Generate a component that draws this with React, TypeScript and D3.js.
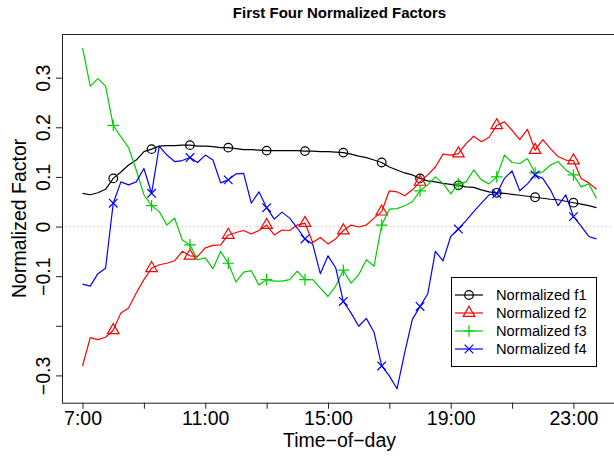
import React, { useEffect, useRef } from "react";
import * as d3 from "d3";

const width = 614;
const height = 457;

// samples every 15 minutes, 7:00 .. 23:45
const hours = d3.range(7, 24, 0.25);

const f1 = [
  0.067, 0.064, 0.068, 0.075, 0.097, 0.11, 0.124, 0.134, 0.151, 0.156,
  0.162, 0.163, 0.163, 0.164, 0.164, 0.162, 0.162, 0.161, 0.159, 0.159,
  0.157, 0.155, 0.155, 0.154, 0.153, 0.153, 0.153, 0.153, 0.153, 0.152,
  0.152, 0.151, 0.151, 0.15, 0.149, 0.146, 0.142, 0.139, 0.134, 0.129,
  0.12, 0.114, 0.108, 0.104, 0.097, 0.092, 0.09, 0.087, 0.085, 0.083,
  0.08, 0.079, 0.074, 0.07, 0.068, 0.067, 0.065, 0.063, 0.061, 0.059,
  0.057, 0.055, 0.054, 0.051, 0.048, 0.045, 0.042, 0.038
];

const f2 = [
  -0.281, -0.224, -0.228, -0.223, -0.209, -0.174, -0.164, -0.134, -0.107, -0.084,
  -0.077, -0.074, -0.069, -0.05, -0.059, -0.06, -0.043, -0.038, -0.037, -0.017,
  -0.012, -0.008, -0.015, -0.008, 0.003, -0.017, -0.007, -0.008, 0.003, 0.007,
  -0.032, -0.022, -0.035, -0.025, -0.008, 0.003, -0.001, 0.003, 0.017, 0.03,
  0.072, 0.07, 0.062, 0.074, 0.09, 0.104, 0.12, 0.146, 0.144, 0.147,
  0.167, 0.182, 0.171, 0.18, 0.204, 0.211, 0.194, 0.175, 0.196, 0.154,
  0.175, 0.157, 0.141, 0.134, 0.133, 0.097, 0.088, 0.075
];

const f3 = [
  0.36, 0.283, 0.298, 0.283, 0.204, 0.181, 0.159, 0.114, 0.064, 0.042,
  0.03, 0.003, 0.017, -0.027, -0.037, -0.067, -0.063, -0.085, -0.05, -0.074,
  -0.112, -0.092, -0.089, -0.118, -0.107, -0.11, -0.11, -0.107, -0.09, -0.107,
  -0.107, -0.124, -0.141, -0.12, -0.088, -0.114, -0.097, -0.067, -0.08, 0.003,
  0.035, 0.036, 0.042, 0.05, 0.072, 0.084, 0.1, 0.087, 0.066, 0.086,
  0.09, 0.114, 0.094, 0.086, 0.1, 0.144, 0.129, 0.127, 0.137, 0.108,
  0.11, 0.124, 0.131, 0.114, 0.104, 0.08, 0.086, 0.057
];

const f4 = [
  -0.116, -0.12, -0.095, -0.084, 0.047, 0.09, 0.084, 0.09, 0.117, 0.067,
  0.162, 0.144, 0.131, 0.133, 0.139, 0.129, 0.144, 0.134, 0.088, 0.094,
  0.106, 0.107, 0.047, 0.07, 0.038, 0.015, 0.029, 0.017, -0.003, -0.025,
  -0.035, -0.095, -0.059, -0.083, -0.151, -0.174, -0.201, -0.185, -0.213, -0.281,
  -0.301, -0.327, -0.254, -0.187, -0.161, -0.136, -0.05, -0.069, -0.02, -0.005,
  0.012, 0.03, 0.047, 0.064, 0.066, 0.097, 0.112, 0.072, 0.086, 0.104,
  0.097, 0.074, 0.042, 0.064, 0.02, 0.001, -0.02, -0.025
];

const seriesNames = ["Normalized f1", "Normalized f2", "Normalized f3", "Normalized f4"];
const seriesColors = ["#000000", "#FF0000", "#00CD00", "#0000FF"];
const seriesShapes = ["circle", "triangle", "plus", "cross"];

const xTicks = [7, 9, 11, 13, 15, 17, 19, 21, 23];
const xTickLabels = ["7:00", "", "11:00", "", "15:00", "", "19:00", "", "23:00"];
const yTicks = [-0.3, -0.2, -0.1, 0, 0.1, 0.2, 0.3];
const yTickLabels = ["\u22120.3", "", "\u22120.1", "0", "0.1", "0.2", "0.3"];

const font = "'Liberation Sans', Arial, Helvetica, sans-serif";

function drawMarker(g: any, shape: string, cx: number, cy: number, color: string) {
  if (shape === "circle") {
    g.append("circle")
      .attr("cx", cx)
      .attr("cy", cy)
      .attr("r", 4.3)
      .attr("fill", "none")
      .attr("stroke", color)
      .attr("stroke-width", 1.2);
    return;
  }
  let d = "";
  if (shape === "triangle") {
    d = `M${cx},${cy - 6.7}L${cx + 5.8},${cy + 3.35}L${cx - 5.8},${cy + 3.35}Z`;
  } else if (shape === "plus") {
    d = `M${cx - 5.8},${cy}H${cx + 5.8}M${cx},${cy - 5.8}V${cy + 5.8}`;
  } else {
    d = `M${cx - 4.3},${cy - 4.3}L${cx + 4.3},${cy + 4.3}M${cx - 4.3},${cy + 4.3}L${cx + 4.3},${cy - 4.3}`;
  }
  g.append("path")
    .attr("d", d)
    .attr("fill", "none")
    .attr("stroke", color)
    .attr("stroke-width", 1.2);
}

const App = () => {
  const ref = useRef<SVGSVGElement>(null);

  useEffect(() => {
    const svg = d3.select(ref.current);
    svg.selectAll("*").remove();

    const x = d3.scaleLinear().domain([6.33, 24.42]).range([62, 617]);
    const y = d3.scaleLinear().domain([-0.355, 0.388]).range([402.7, 34]);

    const [x0, x1] = x.range();
    const [yb, yt] = y.range();

    svg
      .append("defs")
      .append("clipPath")
      .attr("id", "plotclip")
      .append("rect")
      .attr("x", x0)
      .attr("y", yt)
      .attr("width", x1 - x0)
      .attr("height", yb - yt);

    // dotted zero line
    svg
      .append("line")
      .attr("x1", x0)
      .attr("x2", x1)
      .attr("y1", y(0))
      .attr("y2", y(0))
      .attr("stroke", "#bebebe")
      .attr("stroke-dasharray", "1,3");

    const plot = svg.append("g").attr("clip-path", "url(#plotclip)");
    const series = [f1, f2, f3, f4];
    const markerIdx = d3.range(4, hours.length, 5);

    const line = d3
      .line<number>()
      .x((d, i) => x(hours[i]))
      .y(d => y(d));

    series.forEach((vals, k) => {
      plot
        .append("path")
        .datum(vals)
        .attr("d", line)
        .attr("fill", "none")
        .attr("stroke", seriesColors[k])
        .attr("stroke-width", 1.2)
        .attr("stroke-linejoin", "round");
      markerIdx.forEach(i => {
        drawMarker(plot, seriesShapes[k], x(hours[i]), y(vals[i]), seriesColors[k]);
      });
    });

    // box
    svg
      .append("rect")
      .attr("x", x0 + 0.5)
      .attr("y", yt + 0.5)
      .attr("width", x1 - x0)
      .attr("height", yb - yt)
      .attr("fill", "none")
      .attr("stroke", "#222")
      .attr("stroke-width", 1);

    // x axis
    const gx = svg
      .append("g")
      .attr("transform", `translate(0,${yb})`)
      .call(
        d3
          .axisBottom(x)
          .tickValues(xTicks)
          .tickSize(6)
          .tickFormat((d, i) => xTickLabels[i])
      );
    gx.select(".domain").remove();
    gx.selectAll("line").attr("stroke", "#222");
    gx.selectAll("text")
      .attr("y", 22)
      .attr("dy", 0)
      .attr("fill", "#000")
      .style("font-family", font)
      .style("font-size", "19.5px");

    // y axis
    const gy = svg
      .append("g")
      .attr("transform", `translate(${x0},0)`)
      .call(
        d3
          .axisLeft(y)
          .tickValues(yTicks)
          .tickSize(6)
          .tickFormat((d, i) => yTickLabels[i])
      );
    gy.select(".domain").remove();
    gy.selectAll("line").attr("stroke", "#222");
    gy.selectAll("text")
      .attr("x", 0)
      .attr("y", -12.5)
      .attr("dy", 0)
      .attr("transform", "rotate(-90)")
      .attr("text-anchor", "middle")
      .attr("fill", "#000")
      .style("font-family", font)
      .style("font-size", "19.5px");

    const cx = (x0 + x1) / 2;

    svg
      .append("text")
      .attr("x", cx)
      .attr("y", 18.3)
      .attr("text-anchor", "middle")
      .style("font-family", font)
      .style("font-weight", "bold")
      .style("font-size", "15px")
      .text("First Four Normalized Factors");

    svg
      .append("text")
      .attr("x", cx)
      .attr("y", 447)
      .attr("text-anchor", "middle")
      .style("font-family", font)
      .style("font-size", "19.5px")
      .text("Time\u2212of\u2212day");

    svg
      .append("text")
      .attr("transform", `translate(26,${(yb + yt) / 2}) rotate(-90)`)
      .attr("text-anchor", "middle")
      .style("font-family", font)
      .style("font-size", "19.5px")
      .text("Normalized Factor");

    // legend
    const legend = svg.append("g").attr("transform", "translate(451,277)");
    legend
      .append("rect")
      .attr("x", 0.5)
      .attr("y", 0.5)
      .attr("width", 145)
      .attr("height", 89)
      .attr("fill", "#fff")
      .attr("stroke", "#000");

    seriesNames.forEach((name, k) => {
      const ry = 18 + k * 18;
      legend
        .append("line")
        .attr("x1", 4)
        .attr("x2", 32)
        .attr("y1", ry)
        .attr("y2", ry)
        .attr("stroke", seriesColors[k])
        .attr("stroke-width", 1.2);
      drawMarker(legend, seriesShapes[k], 18, ry, seriesColors[k]);
      legend
        .append("text")
        .attr("x", 45)
        .attr("y", ry + 5)
        .style("font-family", font)
        .style("font-size", "14.7px")
        .text(name);
    });
  }, []);

  return (
    <svg
      ref={ref}
      width={width}
      height={height}
      style={{ position: "absolute", left: 0, top: 0, background: "#fff" }}
    />
  );
};

export default App;
